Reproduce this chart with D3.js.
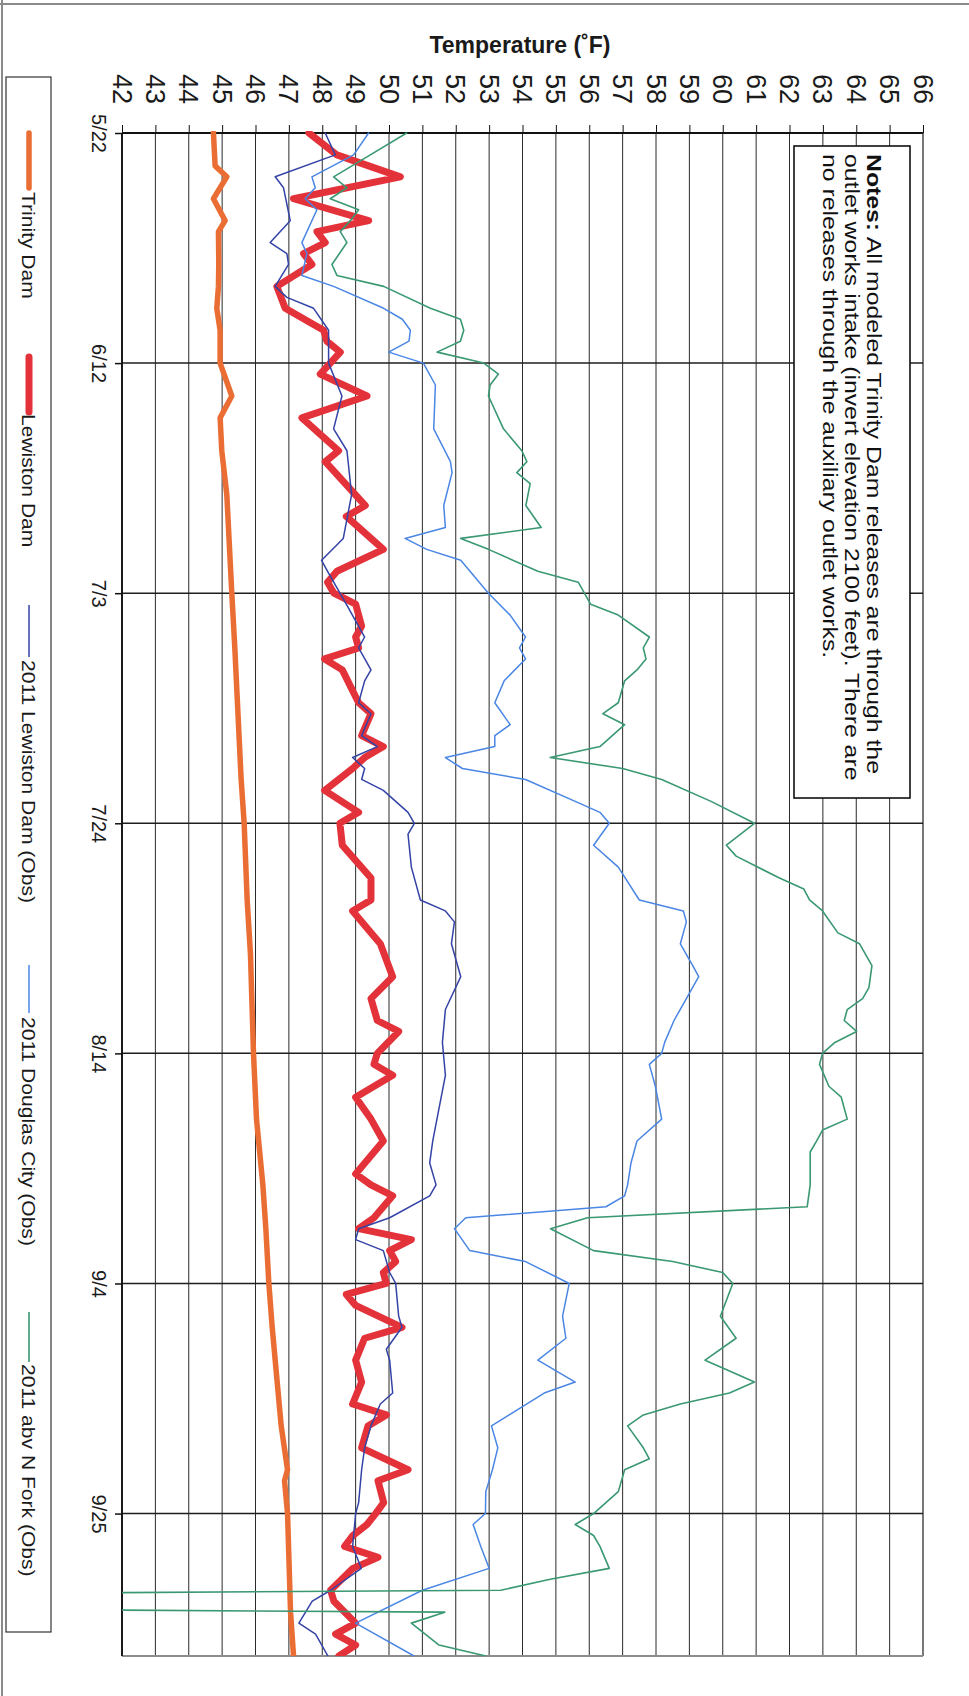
<!DOCTYPE html>
<html>
<head>
<meta charset="utf-8">
<script src="https://cdn.jsdelivr.net/npm/d3@7"></script>
<style>
  body { margin: 0; background: #fff; }
  svg text { font-family: "Liberation Sans", Arial, Helvetica, sans-serif; }
</style>
</head>
<body>
<script>
// ---------------- DATA ----------------
const tempTicks = [42,43,44,45,46,47,48,49,50,51,52,53,54,55,56,57,58,59,60,61,62,63,64,65,66];
const dateTicks = ["5/22","6/12","7/3","7/24","8/14","9/4","9/25"];
const dateStart = "5/22";
const dateEnd = "10/8";
const seriesNames = ["Trinity Dam","Lewiston Dam","2011 Lewiston Dam (Obs)","2011 Douglas City (Obs)","2011 abv N Fork (Obs)"];
const titleText = "Temperature (˚F)";
const notesLines = [
  ["Notes:", " All modeled Trinity Dam releases are through the"],
  ["", "outlet works intake (invert elevation 2100 feet). There are"],
  ["", "no releases through the auxiliary outlet works."]
];

const trinityDam = [["5/22",44.74],["5/25",44.79],["5/26",45.14],["5/27",44.94],["5/28",44.74],["5/30",45.09],["5/31",44.89],["6/3",44.9],["6/5",44.89],["6/7",44.84],["6/9",44.94],["6/12",44.94],["6/15",45.29],["6/17",44.94],["6/20",44.99],["6/24",45.14],["7/3",45.29],["7/8",45.38],["7/20",45.57],["7/24",45.66],["7/31",45.75],["8/5",45.85],["8/14",45.94],["8/20",46.03],["8/26",46.22],["8/30",46.31],["9/4",46.4],["9/8",46.5],["9/17",46.77],["9/21",46.96],["9/22",46.87],["9/25",46.96],["10/4",47.05],["10/8",47.14]];

const lewistonDam = [["5/22",47.6],["5/24",48.44],["5/26",50.34],["5/28",47.14],["5/30",49.39],["5/31",47.84],["6/1",48.09],["6/2",47.44],["6/3",47.69],["6/5",46.64],["6/7",46.89],["6/9",48.04],["6/10",48.14],["6/11",48.54],["6/13",47.94],["6/15",49.34],["6/17",47.39],["6/20",48.49],["6/21",48.09],["6/25",49.29],["6/26",48.72],["6/29",49.83],["7/1",48.44],["7/2",48.16],["7/3",48.35],["7/4",49.0],["7/6",49.18],["7/7",49.0],["7/8",49.09],["7/9",48.07],["7/10",48.6],["7/13",49.09],["7/14",49.46],["7/16",49.18],["7/17",49.83],["7/18",49.27],["7/19",48.91],["7/21",48.07],["7/23",49.09],["7/24",48.53],["7/26",48.6],["7/29",49.46],["7/31",49.46],["8/1",48.91],["8/3",49.46],["8/4",49.74],["8/7",50.11],["8/9",49.46],["8/11",49.65],["8/12",50.29],["8/14",49.65],["8/15",49.55],["8/16",50.11],["8/18",49.0],["8/20",49.46],["8/22",49.83],["8/25",49.0],["8/26",49.46],["8/27",50.11],["8/28",49.83],["8/29",49.55],["8/30",49.09],["8/31",50.67],["9/1",50.02],["9/2",50.2],["9/3",49.83],["9/4",49.92],["9/5",48.72],["9/6",49.0],["9/8",50.39],["9/9",49.27],["9/11",49.0],["9/13",49.18],["9/15",48.91],["9/16",49.92],["9/17",49.37],["9/19",49.18],["9/21",50.57],["9/22",49.67],["9/24",49.84],["9/25",49.6],["9/26",49.34],["9/27",48.92],["9/28",48.67],["9/29",49.67],["9/30",48.92],["10/2",48.25],["10/3",48.35],["10/5",49.0],["10/6",48.4],["10/7",49.0],["10/8",48.5]];

const lewistonObs = [["5/22",48.09],["5/24",48.39],["5/26",46.59],["5/27",46.84],["5/30",47.04],["6/1",46.44],["6/2",46.94],["6/3",46.99],["6/5",46.59],["6/6",46.94],["6/7",47.74],["6/9",48.19],["6/12",48.19],["6/15",48.59],["6/18",48.34],["6/20",48.74],["6/24",48.88],["6/28",48.63],["6/30",47.98],["7/1",48.16],["7/4",48.72],["7/7",49.27],["7/8",49.09],["7/10",49.46],["7/11",49.27],["7/13",49.09],["7/14",49.46],["7/16",49.18],["7/17",49.65],["7/18",48.91],["7/19",49.27],["7/20",49.18],["7/21",49.83],["7/23",50.57],["7/24",50.76],["7/25",50.57],["7/28",50.67],["7/31",50.94],["8/1",51.69],["8/2",51.96],["8/4",51.87],["8/7",52.15],["8/10",51.69],["8/13",51.6],["8/16",51.69],["8/19",51.5],["8/22",51.31],["8/24",51.22],["8/26",51.41],["8/27",51.22],["8/29",50.02],["8/30",49.09],["8/31",49.0],["9/1",49.83],["9/3",50.02],["9/4",50.2],["9/7",50.29],["9/8",50.39],["9/10",49.92],["9/11",50.02],["9/14",50.11],["9/15",49.74],["9/17",49.46],["9/19",49.27],["9/21",49.18],["9/24",49.09],["9/25",49.0],["9/28",48.91],["9/30",49.17],["10/2",48.25],["10/3",47.7],["10/5",47.3],["10/6",47.8],["10/8",48.17]];

const douglasCityObs = [["5/22",49.39],["5/24",48.94],["5/26",47.69],["5/27",47.79],["5/28",47.49],["5/29",47.84],["6/1",47.39],["6/2",47.54],["6/4",47.39],["6/5",48.34],["6/7",49.84],["6/8",50.4],["6/9",50.64],["6/10",50.6],["6/11",49.99],["6/12",51.03],["6/14",51.39],["6/18",51.34],["6/21",51.84],["6/22",51.89],["6/25",51.64],["6/27",51.69],["6/28",50.48],["6/29",51.13],["6/30",52.15],["7/3",52.98],["7/5",53.63],["7/7",54.09],["7/8",53.91],["7/9",54.09],["7/11",53.45],["7/13",53.17],["7/15",53.63],["7/16",53.17],["7/17",53.17],["7/18",51.69],["7/19",52.2],["7/20",54.09],["7/22",55.58],["7/23",56.32],["7/24",56.6],["7/26",56.13],["7/28",56.87],["7/31",57.5],["8/1",58.82],["8/2",58.91],["8/4",58.73],["8/6",59.1],["8/7",59.28],["8/9",58.91],["8/11",58.54],["8/13",58.26],["8/14",58.17],["8/15",57.8],["8/17",57.98],["8/20",58.17],["8/22",57.43],["8/24",57.25],["8/26",57.15],["8/27",57.06],["8/28",56.5],["8/29",52.3],["8/30",51.96],["9/1",52.42],["9/2",54.09],["9/4",55.4],["9/7",55.2],["9/9",55.3],["9/11",54.46],["9/13",55.58],["9/14",54.65],["9/17",53.07],["9/19",53.26],["9/21",53.1],["9/23",52.9],["9/25",52.89],["9/26",52.52],["9/28",52.75],["9/30",53.0],["10/2",51.0],["10/5",49.0],["10/8",50.75]];

const nForkObs = [["5/22",50.53],["5/24",49.44],["5/26",48.34],["5/27",48.74],["5/28",48.24],["5/29",49.09],["5/30",48.84],["5/31",48.54],["6/1",48.74],["6/3",48.29],["6/4",48.44],["6/5",49.84],["6/7",51.24],["6/8",52.14],["6/9",52.24],["6/10",52.14],["6/11",51.44],["6/12",52.84],["6/13",53.28],["6/14",53.03],["6/15",52.98],["6/18",53.43],["6/20",53.98],["6/21",54.13],["6/22",53.83],["6/23",54.23],["6/25",54.1],["6/26",54.33],["6/27",54.56],["6/28",52.15],["6/29",52.98],["7/1",54.46],["7/2",55.67],["7/4",56.04],["7/5",56.87],["7/7",57.8],["7/8",57.62],["7/9",57.7],["7/10",57.43],["7/11",57.06],["7/13",56.87],["7/14",56.41],["7/15",57.06],["7/16",56.69],["7/17",56.32],["7/18",54.83],["7/19",57.0],["7/20",58.17],["7/22",59.65],["7/24",60.95],["7/26",60.11],["7/27",60.4],["7/29",61.7],["7/30",62.43],["7/31",62.6],["8/1",62.99],["8/3",63.45],["8/4",64.1],["8/6",64.47],["8/8",64.38],["8/9",64.19],["8/10",63.73],["8/11",63.64],["8/12",64.01],["8/13",63.36],["8/14",62.99],["8/15",62.9],["8/17",63.18],["8/18",63.55],["8/20",63.73],["8/21",62.99],["8/22",62.81],["8/23",62.62],["8/26",62.62],["8/28",62.53],["8/29",55.95],["8/30",54.84],["9/1",56.13],["9/2",58.5],["9/3",60.0],["9/4",60.3],["9/7",59.93],["9/9",60.4],["9/11",59.47],["9/13",60.95],["9/14",60.2],["9/15",58.73],["9/16",57.62],["9/17",57.15],["9/19",57.62],["9/20",57.8],["9/21",57.06],["9/23",56.87],["9/25",56.13],["9/26",55.58],["9/27",56.13],["9/28",56.32],["9/30",56.6],["10/1",54.83],["10/2",53.35],["10/3",0],["10/4",51.67],["10/5",50.67],["10/7",51.5],["10/8",52.9]];

// ---------------- LAYOUT / STYLE ----------------
const W = 969, H = 1696;
const plot = { left: 122, right: 923, top: 133, bottom: 1656 };
const parse = s => { const [m, d] = s.split("/").map(Number); return new Date(Date.UTC(2011, m - 1, d)); };

const series = [
  { name: seriesNames[0], data: trinityDam,     color: "#ea6d34", width: 5.5 },
  { name: seriesNames[1], data: lewistonDam,    color: "#e4323a", width: 7 },
  { name: seriesNames[2], data: lewistonObs,    color: "#3443a6", width: 1.5 },
  { name: seriesNames[3], data: douglasCityObs, color: "#4a86e4", width: 1.5 },
  { name: seriesNames[4], data: nForkObs,       color: "#3a9872", width: 1.6 }
];
const legendLayout = [
  { y0: 133, y1: 188, ty: 192 },
  { y0: 357, y1: 412, ty: 414 },
  { y0: 605, y1: 657, ty: 660 },
  { y0: 965, y1: 1013, ty: 1017 },
  { y0: 1312, y1: 1362, ty: 1364 }
];

const svg = d3.select("body").append("svg")
  .attr("width", W).attr("height", H)
  .style("display", "block");
svg.append("rect").attr("width", W).attr("height", H).attr("fill", "#fff");

const x = d3.scaleLinear().domain([tempTicks[0], tempTicks[tempTicks.length - 1]]).range([plot.left, plot.right]);
const y = d3.scaleUtc().domain([parse(dateStart), parse(dateEnd)]).range([plot.top, plot.bottom]);

// page frame
svg.append("line").attr("x1", 0).attr("x2", W).attr("y1", 4).attr("y2", 4).attr("stroke", "#8a8a8a").attr("stroke-width", 2);
svg.append("line").attr("x1", 2).attr("x2", 2).attr("y1", 0).attr("y2", H).attr("stroke", "#8a8a8a").attr("stroke-width", 2);

// title
svg.append("text")
  .attr("x", 520).attr("y", 53)
  .attr("text-anchor", "middle")
  .attr("font-size", 23).attr("font-weight", "bold").attr("fill", "#1a1a1a")
  .text(titleText);

// vertical (temperature) gridlines
svg.append("g").selectAll("line").data(tempTicks).join("line")
  .attr("x1", d => x(d)).attr("x2", d => x(d))
  .attr("y1", plot.top).attr("y2", plot.bottom)
  .attr("stroke", d => (d === tempTicks[0] ? "#111" : (d === tempTicks[tempTicks.length-1] ? "#777" : "#2a2a2a")))
  .attr("stroke-width", d => (d === tempTicks[0] ? 1.6 : (d === tempTicks[tempTicks.length-1] ? 2 : 1)));

// horizontal (date) gridlines
svg.append("g").selectAll("line").data(dateTicks.slice(1)).join("line")
  .attr("x1", plot.left).attr("x2", plot.right)
  .attr("y1", d => y(parse(d))).attr("y2", d => y(parse(d)))
  .attr("stroke", "#1e1e1e").attr("stroke-width", 1.5);

// bottom border
svg.append("line").attr("x1", plot.left).attr("x2", plot.right)
  .attr("y1", plot.bottom).attr("y2", plot.bottom)
  .attr("stroke", "#8c8c8c").attr("stroke-width", 2.2);

// top axis (temperature)
const gx = svg.append("g").attr("transform", `translate(0,${plot.top})`)
  .call(d3.axisTop(x).tickValues(tempTicks).tickSize(8).tickFormat(d3.format("d")));
gx.attr("font-family", null).attr("font-size", null);
gx.select(".domain").attr("stroke", "#111").attr("stroke-width", 2.2).attr("d", `M${plot.left},0H${plot.right}`);
gx.selectAll(".tick line").attr("stroke", "#111").attr("stroke-width", 1);
gx.selectAll(".tick text")
  .attr("y", 0).attr("dy", null)
  .attr("transform", "translate(-10,-44) rotate(90)")
  .attr("text-anchor", "middle")
  .attr("font-size", 27).attr("fill", "#1a1a1a");

// left axis (dates)
const gy = svg.append("g").attr("transform", `translate(${plot.left},0)`)
  .call(d3.axisLeft(y).tickValues(dateTicks.map(parse)).tickSize(7).tickFormat(d3.utcFormat("%-m/%-d")));
gy.attr("font-family", null).attr("font-size", null);
gy.select(".domain").attr("stroke", "#111").attr("stroke-width", 1.6).attr("d", `M0,${plot.top}V${plot.bottom}`);
gy.selectAll(".tick line").attr("stroke", "#111").attr("stroke-width", 1.5);
gy.selectAll(".tick text")
  .attr("x", 0).attr("dy", null)
  .attr("transform", "translate(-30,0) rotate(90)")
  .attr("text-anchor", "middle")
  .attr("font-size", 20).attr("fill", "#1a1a1a");

// clip
svg.append("clipPath").attr("id", "plotclip")
  .append("rect").attr("x", plot.left).attr("y", plot.top - 2)
  .attr("width", plot.right - plot.left).attr("height", plot.bottom - plot.top + 2);

// notes box (drawn under the lines? In reference the lines never reach it)
const nb = { x: 794, y: 146, w: 116, h: 652 };
svg.append("rect").attr("x", nb.x).attr("y", nb.y).attr("width", nb.w).attr("height", nb.h)
  .attr("fill", "#fff").attr("stroke", "#111").attr("stroke-width", 1.6);
const noteBase = [867, 845, 823];
notesLines.forEach((ln, i) => {
  const t = svg.append("text")
    .attr("transform", `translate(${noteBase[i]},154) rotate(90) scale(1.24,1)`)
    .attr("font-size", 20).attr("fill", "#111");
  if (ln[0]) t.append("tspan").attr("font-weight", "bold").text(ln[0]);
  t.append("tspan").text(ln[1]);
});

// series lines
const line = d3.line()
  .x(d => x(d[1]))
  .y(d => y(parse(d[0])))
  .curve(d3.curveLinear);
const gl = svg.append("g").attr("clip-path", "url(#plotclip)");
series.forEach(s => {
  gl.append("path")
    .datum(s.data)
    .attr("d", line)
    .attr("fill", "none")
    .attr("stroke", s.color)
    .attr("stroke-width", s.width)
    .attr("stroke-linejoin", "round")
    .attr("stroke-linecap", "round");
});

// legend
svg.append("rect").attr("x", 6).attr("y", 77).attr("width", 45).attr("height", 1555)
  .attr("fill", "#fff").attr("stroke", "#333").attr("stroke-width", 1.2);
series.forEach((s, i) => {
  const L = legendLayout[i];
  svg.append("line").attr("x1", 29).attr("x2", 29).attr("y1", L.y0).attr("y2", L.y1)
    .attr("stroke", s.color).attr("stroke-width", s.width)
    .attr("stroke-linecap", s.width > 3 ? "round" : "butt");
  svg.append("text")
    .attr("transform", `translate(22,${L.ty}) rotate(90) scale(1.17,1)`)
    .attr("font-size", 18).attr("fill", "#1a1a1a")
    .text(s.name);
});
</script>
</body>
</html>
